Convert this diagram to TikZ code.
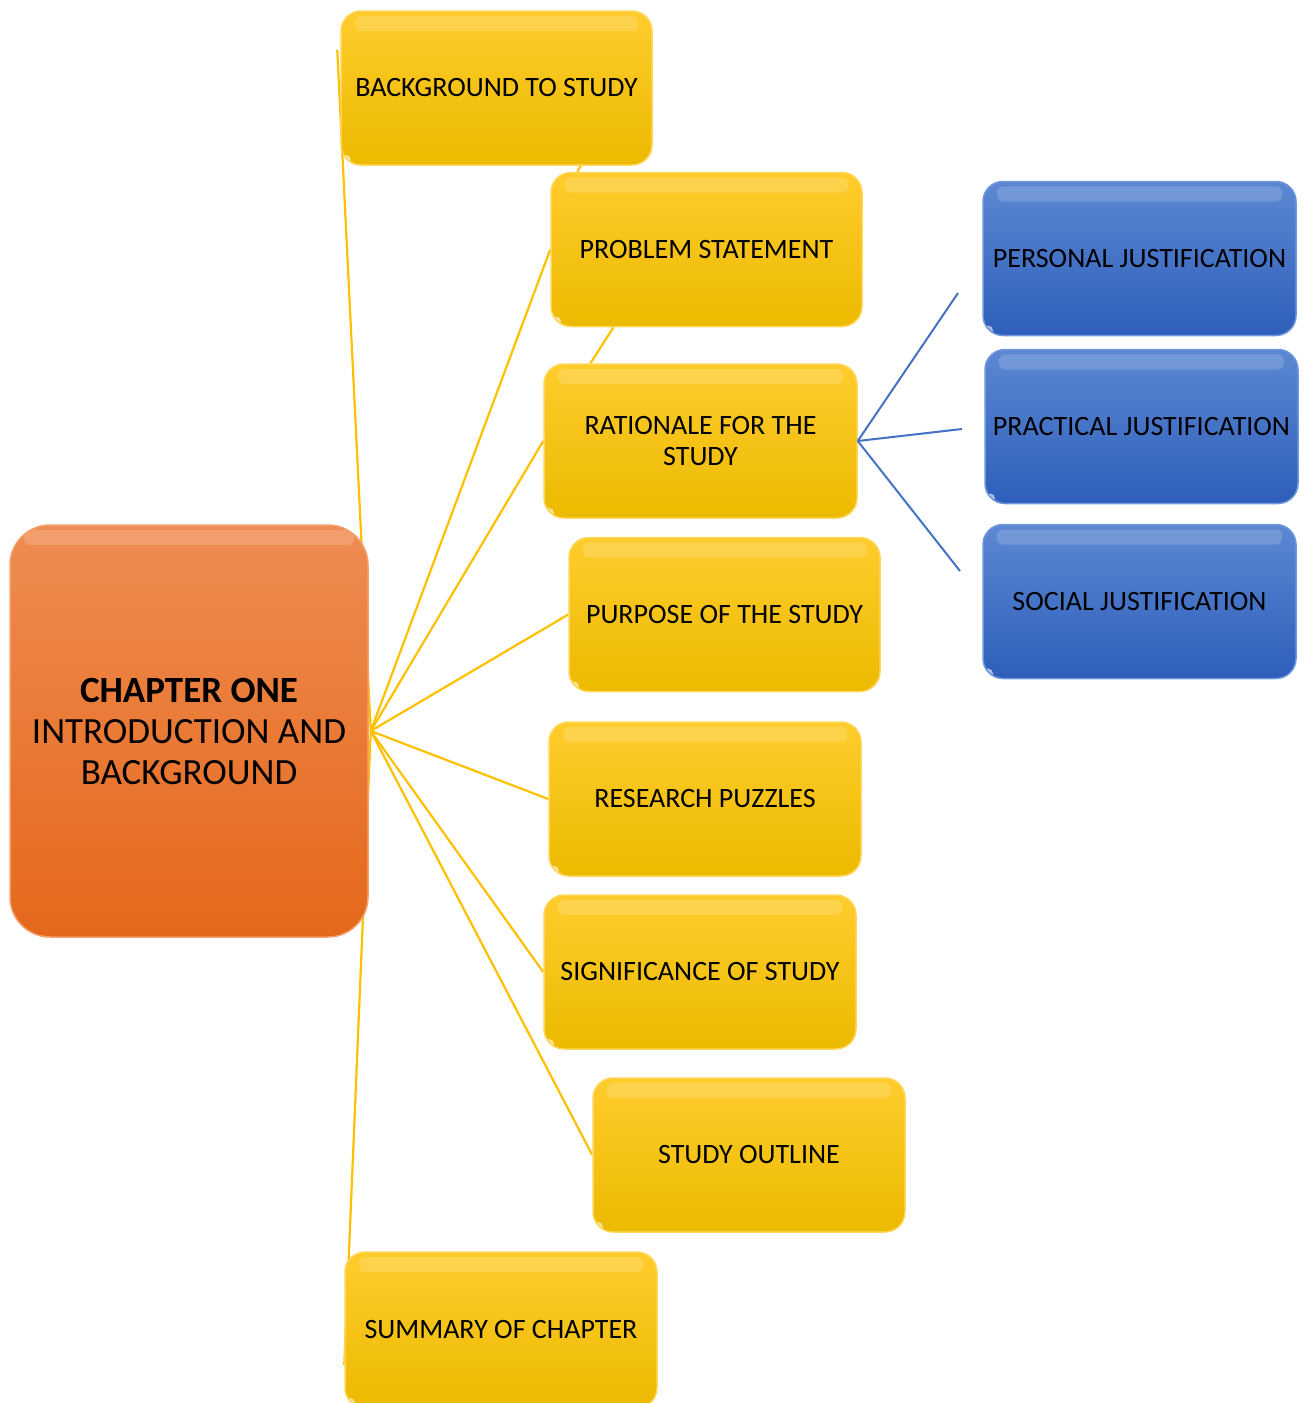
\documentclass[tikz,border=0pt]{standalone}
\usepackage{fontspec}
\setmainfont{Carlito}
\usetikzlibrary{backgrounds}

\definecolor{ylwTop}{RGB}{255,204,45}
\definecolor{ylwBot}{RGB}{236,186,0}
\definecolor{ylwEdge}{RGB}{255,214,90}
\definecolor{orgTop}{RGB}{239,140,82}
\definecolor{orgBot}{RGB}{228,104,26}
\definecolor{orgEdge}{RGB}{245,160,110}
\definecolor{bluTop}{RGB}{92,136,210}
\definecolor{bluBot}{RGB}{46,94,186}
\definecolor{bluEdge}{RGB}{110,150,220}
\definecolor{linkY}{RGB}{255,192,0}
\definecolor{linkB}{RGB}{68,114,196}

\tikzset{
  gloss/.style={path picture={
      \fill[white,opacity=0.16,rounded corners=6pt]
        ([shift={(14pt,-5pt)}]path picture bounding box.north west) rectangle
        ([shift={(-14pt,-20pt)}]path picture bounding box.north east);
      \fill[white,opacity=0.6]
        ([shift={(5pt,5pt)}]path picture bounding box.south west) circle (5pt);
  }},
  card/.style={rounded corners=20pt, minimum width=311pt, minimum height=154pt,
    inner sep=0pt, align=center, font=\fontsize{28}{31}\selectfont,
    line width=1.5pt, gloss},
  ybox/.style={card, top color=ylwTop, bottom color=ylwBot, draw=ylwEdge},
  bbox/.style={card, top color=bluTop, bottom color=bluBot, draw=bluEdge},
  hubbox/.style={rounded corners=40pt, minimum width=358pt, minimum height=412pt,
    inner sep=0pt, align=center, font=\fontsize{37}{41}\selectfont,
    top color=orgTop, bottom color=orgBot, draw=orgEdge, line width=1.5pt, gloss},
  ylink/.style={draw=linkY, line width=2.2pt},
  blink/.style={draw=linkB, line width=2pt},
}

\begin{document}
\begin{tikzpicture}[x=1pt,y=-1pt]
  \useasboundingbox (0,0) rectangle (1309,1403);

  % central chapter box
  \node[hubbox] (ch) at (189,731) {\textbf{CHAPTER ONE}\\INTRODUCTION AND\\BACKGROUND};

  % chapter sections
  \node[ybox] (bg)   at (496.5,88)   {BACKGROUND TO STUDY};
  \node[ybox] (prob) at (706.5,249.5) {PROBLEM STATEMENT};
  \node[ybox, minimum width=313pt] (rat) at (700.5,441) {RATIONALE FOR THE\\STUDY};
  \node[ybox] (purp) at (724.5,614.5) {PURPOSE OF THE STUDY};
  \node[ybox, minimum width=312pt] (puzz) at (705,799) {RESEARCH PUZZLES};
  \node[ybox, minimum width=312pt] (sig)  at (700,972) {SIGNIFICANCE OF STUDY};
  \node[ybox, minimum width=312pt] (outl) at (749,1155) {STUDY OUTLINE};
  \node[ybox, minimum width=312pt, minimum height=156pt] (summ) at (501,1330) {SUMMARY OF CHAPTER};

  % justification boxes
  \node[bbox, minimum width=313pt] (pers) at (1139.5,258.5) {PERSONAL JUSTIFICATION};
  \node[bbox, minimum width=313pt] (prac) at (1141.5,426.5) {PRACTICAL JUSTIFICATION};
  \node[bbox, minimum width=313pt] (soc)  at (1139.5,601.5) {SOCIAL JUSTIFICATION};

  % free ends of the justification links
  \coordinate (jp) at (958,293);
  \coordinate (jq) at (962,429);
  \coordinate (js) at (960,571);

  \begin{pgfonlayer}{background}
    \coordinate (hub) at ([xshift=2pt]ch.east);
    \draw[ylink] (hub) -- ([shift={(-3pt,38pt)}]bg.west);
    \draw[ylink] (hub) -- (prob.west);
    \draw[ylink] (hub) -- (rat.west);
    \draw[ylink] (hub) -- (purp.west);
    \draw[ylink] (hub) -- (puzz.west);
    \draw[ylink] (hub) -- (sig.west);
    \draw[ylink] (hub) -- (outl.west);
    \draw[ylink] (hub) -- ([shift={(0pt,-35pt)}]summ.west);
    \draw[ylink] ([xshift=84pt]bg.south) -- ([xshift=-129pt]prob.north);
    \draw[ylink] ([xshift=-93pt]prob.south) -- ([xshift=-110pt]rat.north);
  \end{pgfonlayer}

  \draw[blink] (rat.east) -- (jp);
  \draw[blink] (rat.east) -- (jq);
  \draw[blink] (rat.east) -- (js);
\end{tikzpicture}
\end{document}
